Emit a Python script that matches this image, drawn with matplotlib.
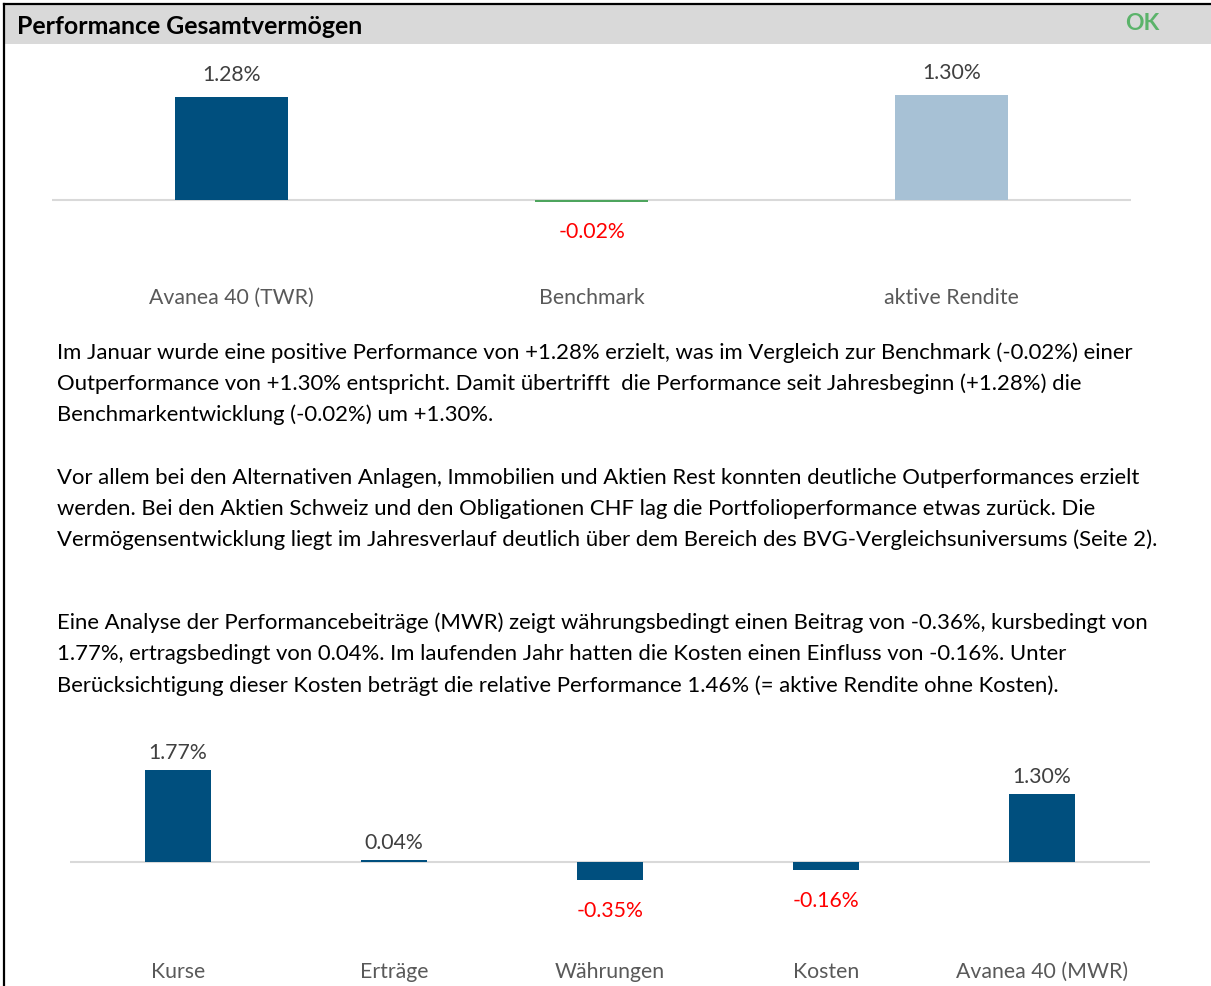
import matplotlib
matplotlib.use("Agg")
import matplotlib.pyplot as plt
from matplotlib.patches import Rectangle
from matplotlib.lines import Line2D

plt.rcParams['font.family'] = ['Lato', 'DejaVu Sans']

W, H = 1211, 986

# data
top_cats = ["Avanea 40 (TWR)", "Benchmark", "aktive Rendite"]
top_vals = [1.28, -0.02, 1.30]
top_colors = ["#004f7e", "#4ea55e", "#a7c1d5"]

bot_cats = ["Kurse", "Erträge", "Währungen", "Kosten", "Avanea 40 (MWR)"]
bot_vals = [1.77, 0.04, -0.35, -0.16, 1.30]

title = "Performance Gesamtvermögen"
status = "OK"

para1 = ["Im Januar wurde eine positive Performance von +1.28% erzielt, was im Vergleich zur Benchmark (-0.02%) einer",
         "Outperformance von +1.30% entspricht. Damit übertrifft  die Performance seit Jahresbeginn (+1.28%) die",
         "Benchmarkentwicklung (-0.02%) um +1.30%."]
para2 = ["Vor allem bei den Alternativen Anlagen, Immobilien und Aktien Rest konnten deutliche Outperformances erzielt",
         "werden. Bei den Aktien Schweiz und den Obligationen CHF lag die Portfolioperformance etwas zurück. Die",
         "Vermögensentwicklung liegt im Jahresverlauf deutlich über dem Bereich des BVG-Vergleichsuniversums (Seite 2)."]
para3 = ["Eine Analyse der Performancebeiträge (MWR) zeigt währungsbedingt einen Beitrag von -0.36%, kursbedingt von",
         "1.77%, ertragsbedingt von 0.04%. Im laufenden Jahr hatten die Kosten einen Einfluss von -0.16%. Unter",
         "Berücksichtigung dieser Kosten beträgt die relative Performance 1.46% (= aktive Rendite ohne Kosten)."]

fig = plt.figure(figsize=(W / 100, H / 100), dpi=100)


def fy(py):
    return 1 - py / H


def fx(px):
    return px / W


# frame and header
fig.patches.append(Rectangle((fx(4), fy(44)), 1, fy(5) - fy(44), transform=fig.transFigure,
                             facecolor="#d9d9d9", edgecolor="none"))
fig.lines.append(Line2D([fx(4), 1], [fy(4), fy(4)], transform=fig.transFigure, color="black", lw=1.6))
fig.lines.append(Line2D([fx(4), fx(4)], [0, fy(4)], transform=fig.transFigure, color="black", lw=1.6))
fig.text(fx(17), fy(26), title, fontsize=17.9, fontweight="bold", va="center", ha="left")
fig.text(fx(1142), fy(24), status, fontsize=16.5, fontweight="bold", color="#5bb36a", va="center", ha="center")

LAB = 15.3


def bar_chart(left, right, top, bottom, base, scale, cats, vals, colors, width, lab_pos, lab_neg, cat_y):
    ax = fig.add_axes([fx(left), fy(bottom), fx(right) - fx(left), fy(top) - fy(bottom)])
    n = len(cats)
    ax.set_xlim(-0.5, n - 0.5)
    ax.set_ylim(-(bottom - base) / scale, (base - top) / scale)
    ax.bar(range(n), vals, width=width, color=colors)
    ax.axhline(0, color="#d9d9d9", lw=1.5, zorder=0)
    for i, v in enumerate(vals):
        if v >= 0:
            ax.annotate(f"{v:.2f}%", (i, v), xytext=(0, lab_pos), textcoords="offset pixels",
                        ha="center", va="center", fontsize=LAB, color="#404040")
        else:
            ax.annotate(f"{v:.2f}%", (i, v), xytext=(0, -lab_neg), textcoords="offset pixels",
                        ha="center", va="center", fontsize=LAB, color="red")
        fig.text(fx(left) + (fx(right) - fx(left)) * (i + 0.5) / n, fy(cat_y), cats[i],
                 ha="center", va="center", fontsize=LAB, color="#595959")
    ax.axis("off")
    return ax


bar_chart(52, 1131, 60, 260, 200, 80.5, top_cats, top_vals, top_colors, 0.314, 22, 30, 298)
bar_chart(70, 1150, 730, 940, 862, 52, bot_cats, bot_vals, ["#004f7e"] * 5, 0.31, 17, 31, 972)

for lines, ys in [(para1, [353, 384, 415]), (para2, [478, 509, 540]), (para3, [623, 654, 686])]:
    for t, y in zip(lines, ys):
        fig.text(fx(57), fy(y), t, fontsize=15.9, va="center", ha="left", color="black")

fig.savefig("out.png", dpi=100)
